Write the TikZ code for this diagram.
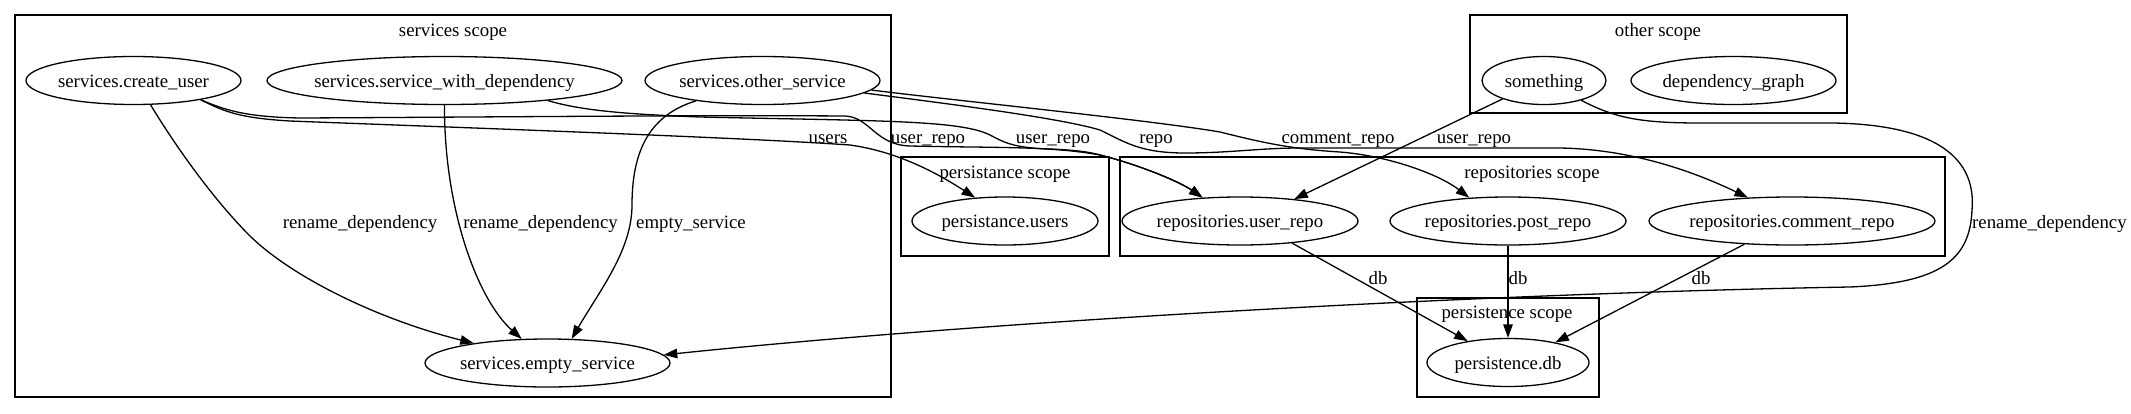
\documentclass[tikz,border=0pt]{standalone}
\usepackage{fontspec}
\setmainfont{Liberation Serif}
\usetikzlibrary{shapes.geometric,arrows.meta}
\newcommand\ztext[1]{\makebox[0pt]{#1}}
\begin{document}
\begin{tikzpicture}[x=1pt,y=-1pt,
  every node/.style={font=\fontsize{18.8}{22}\selectfont},
  nd/.style={draw, ellipse, line width=1.3pt, inner sep=0pt, minimum height=48pt, text height=13pt, text depth=0pt},
  box/.style={draw, line width=1.5pt},
  lbl/.style={anchor=base, inner sep=0pt},
  edge/.style={line width=1.3pt, -{Triangle[length=13.5pt,width=9.5pt]}},
]
\useasboundingbox (0,0) rectangle (2131,413);
% cluster boxes
\draw[box] (15,15) rectangle (891,397);
\draw[box] (1470,15) rectangle (1847,113);
\draw[box] (901,157) rectangle (1109,256);
\draw[box] (1120,157) rectangle (1945,256);
\draw[box] (1417,298) rectangle (1599,397);
\node[lbl] (t1) at (453,36.5) {services scope};
\node[lbl] (t2) at (1658,36.5) {other scope};
\node[lbl] (t3) at (1005,178.5) {persistance scope};
\node[lbl] (t4) at (1532,178.5) {repositories scope};
\node[lbl] (t5) at (1507,318.5) {persistence scope};
% nodes
\node[nd, minimum width=215pt] (cu) at (133.5,80.5) {\ztext{services.create\_user}};
\node[nd, minimum width=355pt] (swd) at (444.5,80.5) {\ztext{services.service\_with\_dependency}};
\node[nd, minimum width=235pt] (os) at (762.5,80.5) {\ztext{services.other\_service}};
\node[nd, minimum width=245pt] (es) at (547.5,363) {\ztext{services.empty\_service}};
\node[nd, minimum width=186pt] (pu) at (1005,221) {\ztext{persistance.users}};
\node[nd, minimum width=236pt] (ur) at (1240,221) {\ztext{repositories.user\_repo}};
\node[nd, minimum width=236pt] (pr) at (1508,221) {\ztext{repositories.post\_repo}};
\node[nd, minimum width=286pt] (cr) at (1792,221) {\ztext{repositories.comment\_repo}};
\node[nd, minimum width=162pt] (db) at (1508,362.5) {\ztext{persistence.db}};
\node[nd, minimum width=124pt] (sm) at (1544,80.5) {\ztext{something}};
\node[nd, minimum width=205pt] (dg) at (1733.5,80.5) {\ztext{dependency\_graph}};
% edges
\draw[edge] (cu.-55) .. controls (175,145) and (210,195) .. (247,233)
  .. controls (290,277) and (380,320) .. (es.165);
\draw[edge] (swd.-90) .. controls (444,210) and (478,300) .. (es.137.3);
\draw[edge] (os.-163.8) .. controls (650,115) and (632,150) .. (632,205)
  .. controls (632,250) and (600,290) .. (es.45);
\draw[edge] (cu.-16.6) .. controls (225,112) and (240,118) .. (290,121)
  .. controls (500,129) and (750,138) .. (850,145)
  .. controls (900,152) and (940,175) .. (pu.142.9);
\draw[edge] (cu.-16.6) .. controls (225,110) and (245,117) .. (300,118)
  .. controls (500,117) and (700,115) .. (845,116)
  .. controls (870,117) and (875,145) .. (910,146)
  .. controls (1000,148) and (1050,146) .. (1100,155)
  .. controls (1140,165) and (1180,182) .. (ur.148.4);
\draw[edge] (swd.-11.9) .. controls (580,110) and (620,114) .. (700,117)
  .. controls (880,121) and (960,120) .. (990,135)
  .. controls (1005,143) and (1015,148) .. (1050,149)
  .. controls (1075,150) and (1090,152) .. (1100,155)
  .. controls (1140,165) and (1180,182) .. (ur.148.4);
\draw[edge] (os.-5.7) .. controls (950,100) and (1150,120) .. (1220,132)
  .. controls (1260,142) and (1290,149) .. (1340,152)
  .. controls (1390,156) and (1440,175) .. (pr.149.1);
\draw[edge] (os.-7) .. controls (950,104) and (1060,118) .. (1100,130)
  .. controls (1125,142) and (1140,153) .. (1185,153)
  .. controls (1230,153) and (1260,148) .. (1300,148) -- (1560,148)
  .. controls (1620,149) and (1680,165) .. (cr.152.6);
\draw[edge] (sm.-156.3) -- (ur.22);
\draw[edge] (sm.-28.4) .. controls (1615,118) and (1640,123) .. (1700,123) -- (1833,123)
  .. controls (1960,125) and (1975,175) .. (1972,210)
  .. controls (1970,260) and (1940,283) .. (1850,287)
  .. controls (1500,293) and (1000,320) .. (es.4.2);
\draw[edge] (ur.-23.5) -- (db.152.4);
\draw[edge] (pr.-90) -- (db.90);
\draw[edge] (cr.-154.2) -- (db.23.2);
% edge labels
\node[lbl] (l1) at (360,228) {rename\_dependency};
\node[lbl] (l2) at (540.5,228) {rename\_dependency};
\node[lbl] (l3) at (691,228) {empty\_service};
\node[lbl, anchor=base west] (l4) at (1972,228) {rename\_dependency};
\node[lbl] (l5) at (828,143) {users};
\node[lbl] (l6) at (928,143) {user\_repo};
\node[lbl] (l7) at (1053,143) {user\_repo};
\node[lbl] (l8) at (1156,143) {repo};
\node[lbl] (l9) at (1338,143) {comment\_repo};
\node[lbl] (l10) at (1474,143) {user\_repo};
\node[lbl] (l11) at (1378,284) {db};
\node[lbl] (l12) at (1518,284) {db};
\node[lbl] (l13) at (1701,284) {db};
\end{tikzpicture}
\end{document}
